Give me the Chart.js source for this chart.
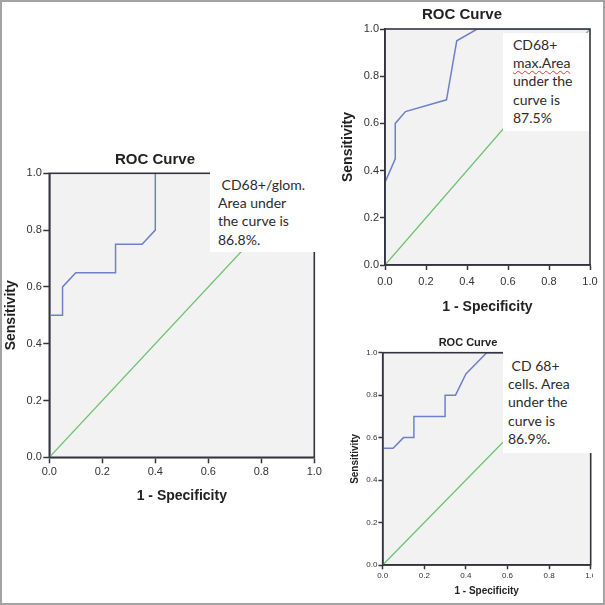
<!DOCTYPE html>
<html>
<head>
<meta charset="utf-8">
<script src="https://cdn.jsdelivr.net/npm/chart.js@4.4.1/dist/chart.umd.min.js"></script>
<style>
  body { margin: 0; background: #fff; }
  #page { position: relative; width: 605px; height: 605px; overflow: hidden; background: #fff; }
  #page canvas { position: absolute; }
  .note { position: absolute; background: #fff; color: #2c2c2c; font-family: Lato, sans-serif; font-size: 14px; line-height: 18.3px; white-space: pre; box-sizing: border-box; }
  .squiggle { text-decoration: underline wavy #e03535; text-decoration-thickness: 1px; text-underline-offset: 2px; }
  #border { position: absolute; left: 0; top: 0; width: 605px; height: 605px; box-sizing: border-box; border: 2px solid #a3a3a3; pointer-events: none; }
</style>
</head>
<body>
<div id="page">
  <canvas id="glomChart" width="330" height="370" style="left:0;top:140px"></canvas>
  <canvas id="maxChart" width="265" height="320" style="left:340px;top:0"></canvas>
  <canvas id="cellsChart" width="253" height="275" style="left:340px;top:330px"></canvas>

  <div class="note" style="left:210px;top:165px;width:110px;height:87px;padding:10.9px 0 0 8px"><div> CD68+/glom.</div><div>Area under</div><div>the curve is</div><div>86.8%.</div></div>
  <div class="note" style="left:503px;top:33px;width:86px;height:98px;padding:2.9px 0 0 10px"><div>CD68+</div><div class="squiggle">max.Area</div><div>under the</div><div>curve is</div><div>87.5%</div></div>
  <div class="note" style="left:503px;top:348px;width:90px;height:105px;padding:8.9px 0 0 5px"><div> CD 68+</div><div>cells. Area</div><div>under the</div><div>curve is</div><div>86.9%.</div></div>

  <div id="border"></div>
</div>

<script>
// axis ticks shared by all three panels
const tickLabels = ['0.0', '0.2', '0.4', '0.6', '0.8', '1.0'];

// reference (chance) line
const chanceFpr = [0, 1];
const chanceTpr = [0, 1];

// CD68+/glom.
const glomFpr = [0, 0, 0.05, 0.05, 0.1, 0.25, 0.25, 0.35, 0.4, 0.4, 1];
const glomTpr = [0, 0.5, 0.5, 0.6, 0.65, 0.65, 0.75, 0.75, 0.8, 1, 1];

// CD68+ max.
const maxFpr = [0, 0, 0.05, 0.05, 0.1, 0.3, 0.35, 0.45, 1];
const maxTpr = [0, 0.35, 0.45, 0.6, 0.65, 0.7, 0.95, 1, 1];

// CD 68+ cells
const cellsFpr = [0, 0, 0.05, 0.1, 0.15, 0.15, 0.3, 0.3, 0.35, 0.4, 0.5, 1];
const cellsTpr = [0, 0.55, 0.55, 0.6, 0.6, 0.7, 0.7, 0.8, 0.8, 0.9, 1, 1];

const titleText = 'ROC Curve';
const yTitle = 'Sensitivity';
const xTitle = '1 - Specificity';

const axisColor = '#34343f';

const plotBackground = {
    id: 'plotBackground',
    beforeDraw(chart) {
        const a = chart.chartArea;
        const c = chart.ctx;
        c.save();
        c.fillStyle = '#f2f2f3';
        c.fillRect(a.left, a.top, a.right - a.left, a.bottom - a.top);
        c.restore();
    }
};

const plotFrame = {
    id: 'plotFrame',
    afterDatasetsDraw(chart) {
        const a = chart.chartArea;
        const c = chart.ctx;
        c.save();
        c.strokeStyle = axisColor;
        c.lineWidth = 1.6;
        c.strokeRect(a.left, a.top, a.right - a.left, a.bottom - a.top);
        c.restore();
    }
};

const panelTitle = {
    id: 'panelTitle',
    afterDraw(chart, args, opts) {
        const c = chart.ctx;
        c.save();
        c.font = opts.font;
        c.fillStyle = '#222';
        c.textAlign = 'center';
        c.textBaseline = 'middle';
        c.fillText(opts.text, opts.x, opts.y);
        c.restore();
    }
};

function points(xs, ys) {
    return xs.map((x, i) => ({ x: x, y: ys[i] }));
}

function rocChart(id, fpr, tpr, look) {
    const ctx = document.getElementById(id).getContext('2d');
    return new Chart(ctx, {
        type: 'line',
        data: {
            datasets: [
                {
                    data: points(fpr, tpr),
                    borderColor: '#6f80ca',
                    borderWidth: 1.5,
                    pointRadius: 0,
                    tension: 0
                },
                {
                    data: points(chanceFpr, chanceTpr),
                    borderColor: '#6cc26c',
                    borderWidth: 1.3,
                    pointRadius: 0,
                    tension: 0
                }
            ]
        },
        options: {
            responsive: false,
            animation: false,
            layout: { padding: look.pad },
            plugins: {
                legend: { display: false },
                tooltip: { enabled: false },
                panelTitle: { text: titleText, x: look.titleX, y: look.titleY, font: 'bold ' + look.titleSize + 'px "Liberation Sans", Arial, sans-serif' }
            },
            scales: {
                x: {
                    type: 'linear',
                    min: 0,
                    max: 1,
                    afterFit(scale) {
                        scale.height = look.xHeight;
                        scale.paddingLeft = 0;
                        scale.paddingRight = 0;
                    },
                    grid: { display: true, drawOnChartArea: false, drawTicks: true, tickLength: look.tick, tickWidth: 1.5, tickColor: axisColor },
                    border: { display: true, color: axisColor, width: 1.6 },
                    ticks: {
                        stepSize: 0.2,
                        autoSkip: false,
                        maxRotation: 0,
                        padding: look.xTickPad,
                        color: '#333',
                        font: { family: '"Liberation Sans", Arial, sans-serif', size: look.tickSize },
                        callback: (v, i) => tickLabels[i]
                    },
                    title: {
                        display: true,
                        text: xTitle,
                        color: '#222',
                        font: { family: '"Liberation Sans", Arial, sans-serif', size: look.axisSize, weight: 'bold' },
                        padding: { top: 0, bottom: look.xTitlePad }
                    }
                },
                y: {
                    type: 'linear',
                    min: 0,
                    max: 1,
                    afterFit(scale) {
                        scale.width = look.yWidth;
                        scale.paddingTop = 0;
                        scale.paddingBottom = 0;
                    },
                    grid: { display: true, drawOnChartArea: false, drawTicks: true, tickLength: look.tick, tickWidth: 1.5, tickColor: axisColor },
                    border: { display: true, color: axisColor, width: 1.6 },
                    ticks: {
                        stepSize: 0.2,
                        autoSkip: false,
                        padding: look.yTickPad,
                        color: '#333',
                        font: { family: '"Liberation Sans", Arial, sans-serif', size: look.tickSize },
                        callback: (v, i) => tickLabels[i]
                    },
                    title: {
                        display: true,
                        text: yTitle,
                        color: '#222',
                        font: { family: '"Liberation Sans", Arial, sans-serif', size: look.axisSize, weight: 'bold' },
                        padding: { top: look.yTitlePad, bottom: 0 }
                    }
                }
            }
        },
        plugins: [plotBackground, plotFrame, panelTitle]
    });
}

rocChart('glomChart', glomFpr, glomTpr, {
    pad: { top: 33.3, right: 15.7, bottom: 0, left: 0 },
    yWidth: 49.3, xHeight: 52.7,
    tick: 6, tickSize: 11, xTickPad: 2, yTickPad: 1.5,
    axisSize: 14, xTitlePad: 5.9, yTitlePad: 3,
    titleX: 155, titleY: 20, titleSize: 15
});

rocChart('maxChart', maxFpr, maxTpr, {
    pad: { top: 29, right: 15, bottom: 0, left: 0 },
    yWidth: 45, xHeight: 55,
    tick: 5, tickSize: 11, xTickPad: 5, yTickPad: 1,
    axisSize: 14, xTitlePad: 4.9, yTitlePad: 0,
    titleX: 122, titleY: 15, titleSize: 15
});

rocChart('cellsChart', cellsFpr, cellsTpr, {
    pad: { top: 22.7, right: 2.3, bottom: 0, left: 0 },
    yWidth: 42.7, xHeight: 40,
    tick: 4.3, tickSize: 8, xTickPad: 2, yTickPad: 1,
    axisSize: 10, xTitlePad: 8, yTitlePad: 9,
    titleX: 128, titleY: 13, titleSize: 11
});
</script>
</body>
</html>
